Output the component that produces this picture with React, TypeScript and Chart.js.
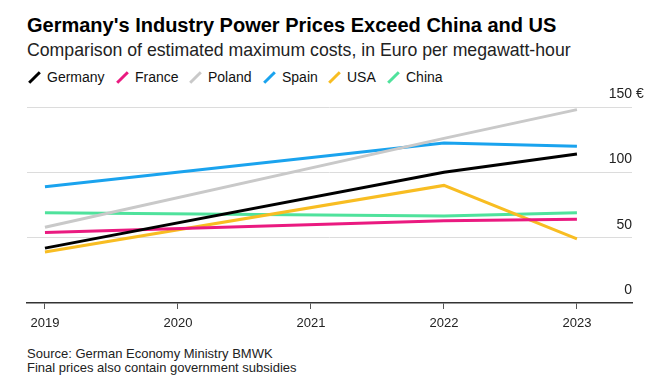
import React, { useEffect, useRef } from "react";
import { Chart, registerables } from "chart.js";

Chart.register(...registerables);

const years = [2019, 2020, 2021, 2022, 2023];
const germany = [42, null, null, 100, 114];
const france = [54, null, null, 63, 64];
const poland = [58, null, null, 126, 148];
const spain = [89, null, null, 122.5, 120];
const usa = [39, null, null, 90, 49];
const china = [69, null, null, 66.5, 69];
const yTicks = [0, 50, 100, 150];
const seriesNames = ["Germany", "France", "Poland", "Spain", "USA", "China"];
const seriesColors = ["#000000", "#ea1a80", "#c9c9c9", "#1aa3ee", "#f8bd22", "#4fe29c"];

const FONT = "'Liberation Sans', Arial, Helvetica, sans-serif";

const yLabelPlugin = {
  id: "yLabels",
  afterDraw(chart: any) {
    const s = chart.scales.y;
    const ctx = chart.ctx;
    const right = chart.chartArea.right;
    ctx.save();
    ctx.font = `14px ${FONT}`;
    ctx.fillStyle = "#222";
    ctx.textBaseline = "alphabetic";
    yTicks.forEach((v) => {
      const py = s.getPixelForValue(v) - 9;
      ctx.textAlign = "right";
      ctx.fillText(String(v), right, py);
      if (v === yTicks[yTicks.length - 1]) {
        ctx.textAlign = "left";
        ctx.fillText(" €", right, py);
      }
    });
    ctx.restore();
  },
};

const legendX = [47, 135, 208, 282, 347, 406];

export default function App() {
  const ref = useRef<HTMLCanvasElement>(null);
  useEffect(() => {
    const series = [germany, france, poland, spain, usa, china];
    const chart = new Chart(ref.current!, {
      type: "line",
      data: {
        datasets: seriesNames.map((n, i) => ({
          label: n,
          data: years.map((y, j) => ({ x: y, y: series[i][j] })),
          borderColor: seriesColors[i],
          backgroundColor: seriesColors[i],
          borderWidth: 3,
          pointRadius: 0,
          tension: 0,
          spanGaps: true,
        })),
      },
      options: {
        animation: false,
        responsive: false,
        devicePixelRatio: 1,
        layout: { padding: { left: 27, right: 33, top: 22, bottom: 0 } },
        plugins: { legend: { display: false }, tooltip: { enabled: false } },
        scales: {
          x: {
            type: "linear",
            min: 2018.865,
            max: 2023.414,
            afterBuildTicks: (s: any) => {
              s.ticks = years.map((v) => ({ value: v }));
            },
            afterFit: (s: any) => {
              s.height = 42;
            },
            grid: { drawOnChartArea: false, drawTicks: true, tickLength: 6, color: "#555", lineWidth: 1 },
            border: { display: true, color: "#333", width: 1.5 },
            ticks: {
              callback: (v: any) => String(v),
              color: "#222",
              font: { family: FONT, size: 13 },
              padding: 7,
              maxRotation: 0,
              autoSkip: false,
            },
          },
          y: {
            position: "right",
            min: 0,
            max: 150,
            afterBuildTicks: (s: any) => {
              s.ticks = yTicks.map((v) => ({ value: v }));
            },
            afterFit: (s: any) => {
              s.width = 0;
            },
            grid: {
              color: (ctx: any) => (ctx.tick && ctx.tick.value === 0 ? "rgba(0,0,0,0)" : "#dcdcdc"),
              drawTicks: false,
              lineWidth: 1,
            },
            border: { display: false },
            ticks: { display: false },
          },
        },
      },
      plugins: [yLabelPlugin],
    } as any);
    return () => chart.destroy();
  }, []);

  return (
    <div style={{ position: "absolute", left: 0, top: 0, width: 665, height: 377, background: "#fff", fontFamily: FONT, overflow: "hidden" }}>
      <div style={{ position: "absolute", left: 27, top: 15, fontSize: 20, lineHeight: "20px", fontWeight: 700, color: "#000", whiteSpace: "nowrap" }}>
        Germany's Industry Power Prices Exceed China and US
      </div>
      <div style={{ position: "absolute", left: 27, top: 42, fontSize: 17.7, lineHeight: "17.7px", color: "#222", whiteSpace: "nowrap" }}>
        Comparison of estimated maximum costs, in Euro per megawatt-hour
      </div>
      {seriesNames.map((n, i) => (
        <React.Fragment key={n}>
          <div
            style={{
              position: "absolute",
              left: legendX[i] - 14.5,
              top: 70,
              width: 3,
              height: 15,
              background: seriesColors[i],
              transform: "rotate(45deg)",
            }}
          />
          <div style={{ position: "absolute", left: legendX[i], top: 70, fontSize: 14, lineHeight: "14px", color: "#111", whiteSpace: "nowrap" }}>
            {n}
          </div>
        </React.Fragment>
      ))}
      <canvas ref={ref} width={665} height={260} style={{ position: "absolute", left: 0, top: 85, width: 665, height: 260 }} />
      <div style={{ position: "absolute", left: 27, top: 347, fontSize: 13, lineHeight: "14px", color: "#222", whiteSpace: "nowrap" }}>
        <div>Source: German Economy Ministry BMWK</div>
        <div>Final prices also contain government subsidies</div>
      </div>
    </div>
  );
}
